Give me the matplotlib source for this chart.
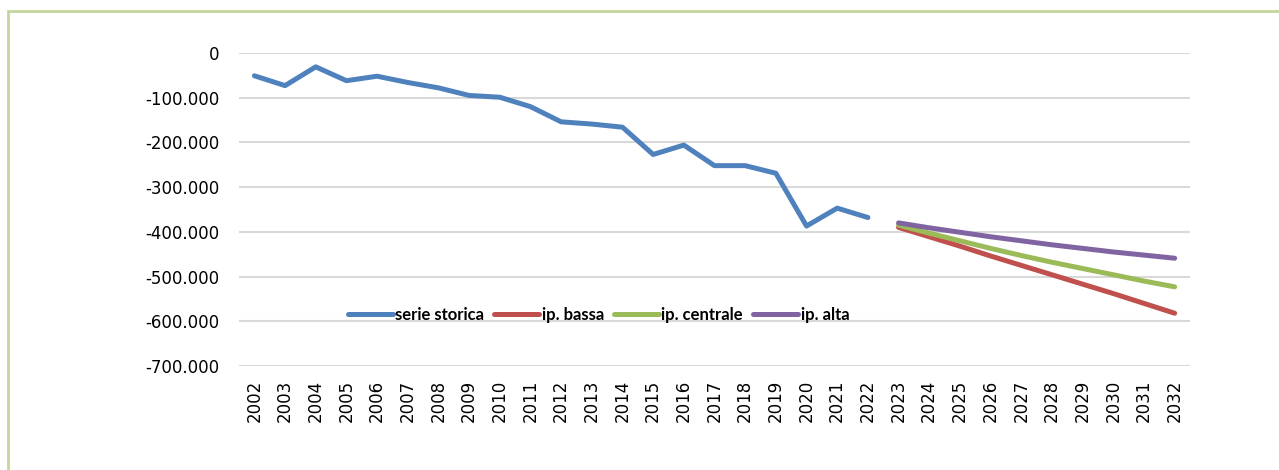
import matplotlib.pyplot as plt
import numpy as np
from matplotlib.patches import Rectangle
from matplotlib.ticker import FuncFormatter

years = [str(y) for y in range(2002, 2033)]
hist_years = years[:21]
proj_years = years[21:]

serie_storica = [-51000, -73000, -31000, -62000, -52000, -66000, -78000, -95000, -99000,
                 -120000, -154000, -159000, -166000, -227000, -206000, -252000, -252000,
                 -269000, -387000, -347000, -368000]
ip_bassa = [-390000, -411000, -432000, -454000, -475000, -496000, -517000, -538000, -560000, -582000]
ip_centrale = [-385000, -403000, -420000, -437000, -453000, -468000, -482000, -496000, -510000, -523000]
ip_alta = [-380000, -391000, -401000, -411000, -420000, -429000, -437000, -445000, -452000, -459000]

plt.rcParams['font.family'] = ['DejaVu Sans']

fig = plt.figure(figsize=(12.79, 4.70), dpi=100)
ax = fig.add_axes([0.1869, 0.2213, 0.7435, 0.666])

x_hist = np.arange(len(hist_years))
x_proj = np.arange(len(hist_years), len(years))

ax.plot(x_hist, serie_storica, color='#4F81BD', lw=3.6, label='serie storica', solid_capstyle='round')
ax.plot(x_proj, ip_bassa, color='#C0504D', lw=3.6, label='ip. bassa', solid_capstyle='round')
ax.plot(x_proj, ip_centrale, color='#9BBB59', lw=3.6, label='ip. centrale', solid_capstyle='round')
ax.plot(x_proj, ip_alta, color='#8064A2', lw=3.6, label='ip. alta', solid_capstyle='round')

ax.set_xlim(-0.5, len(years) - 0.5)
ax.set_ylim(-700000, 0)
ax.set_yticks(np.arange(-700000, 1, 100000))
ax.yaxis.set_major_formatter(FuncFormatter(lambda v, p: f"{int(v):,}".replace(',', '.')))
ax.set_xticks(np.arange(len(years)))
ax.set_xticklabels(years, rotation=90)
ax.tick_params(axis='y', length=0, pad=14, labelsize=12)
ax.tick_params(axis='x', length=0, pad=10, labelsize=12)

ax.grid(axis='y', color='#D9D9D9', lw=1.5)
ax.set_axisbelow(True)
for s in ax.spines.values():
    s.set_visible(False)

leg = ax.legend(loc='center', bbox_to_anchor=(0.378, 0.163), ncol=4, frameon=False,
                prop={'family': 'Lato', 'weight': 'bold', 'size': 12},
                handlelength=2.7, handletextpad=0.15, columnspacing=0.6)

# light green frame around the chart area
fig.patches.append(Rectangle((8 / 1279, -0.1), 1.2, 1 - 11 / 470 + 0.1, transform=fig.transFigure,
                             fill=False, edgecolor='#C3D69B', lw=2))

fig.savefig('out.png', dpi=100)
